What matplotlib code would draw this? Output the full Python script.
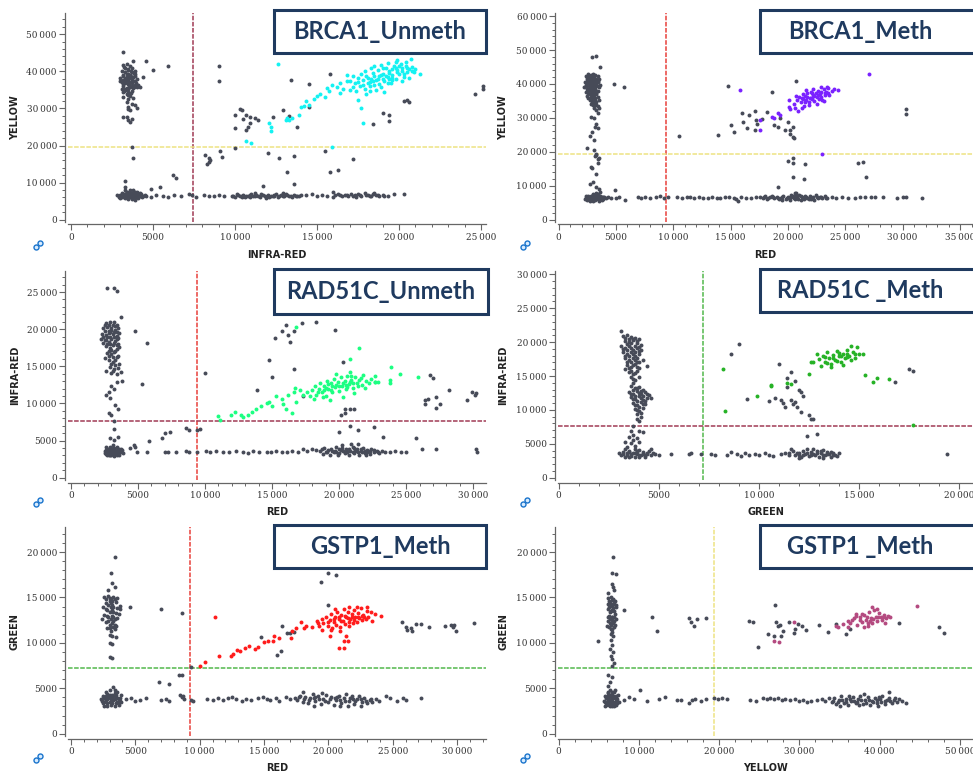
import numpy as np
import matplotlib.pyplot as plt
from matplotlib.ticker import MultipleLocator, AutoMinorLocator, FuncFormatter
from matplotlib.patches import Rectangle

# ---- data (fluorescence, in thousands) ----
# panel 1 : BRCA1_Unmeth  (INFRA-RED vs YELLOW)
p1_gray = [(3.2,41.6),(3.4,41.9),(3.6,41.4),(3.3,40.9),(3.5,40.6),(3.7,40.9),(3.9,40.2),(3.1,40.2),(3.3,39.8),(3.5,39.4),
           (3.7,39.9),(3.9,39.2),(3.2,39.0),(3.4,38.6),(3.6,38.9),(3.8,38.4),(4.0,38.0),(3.0,38.2),(3.3,37.9),(3.5,37.6),
           (3.7,37.8),(3.9,37.3),(3.1,37.1),(3.3,36.8),(3.5,36.5),(3.7,36.9),(3.9,36.4),(4.1,36.2),(4.2,35.9),(3.2,36.0),
           (3.4,35.6),(3.6,35.8),(3.8,35.4),(4.0,35.7),(3.3,34.9),(3.5,34.5),(3.7,34.8),(3.4,33.8),(3.6,33.4),(3.2,33.1),
           (3.5,32.6),(3.8,32.9),(3.4,31.6),(3.7,31.2),(3.5,30.3),(3.0,37.5),(3.1,35.2),(3.2,34.3),(3.9,31.0),(4.0,30.2),
           (3.6,29.6),(3.5,29.9),(3.2,45.1),(3.8,42.9),(4.6,42.9),(5.0,40.3),(5.9,41.3),(4.4,38.6),(3.2,27.6),(3.4,27.8),
           (3.5,26.8),(3.6,26.4),(3.7,27.2),
           (2.9,6.2),(3.0,6.7),(3.1,6.0),(3.2,6.5),(3.3,7.0),(3.3,5.8),(3.4,6.3),(3.5,6.8),(3.5,5.6),(3.6,6.1),(3.6,7.3),
           (3.7,6.6),(3.7,5.7),(3.8,7.0),(3.8,6.0),(3.9,6.5),(3.9,7.6),(4.0,6.2),(4.0,6.9),(4.1,5.8),(4.1,6.6),(4.2,7.1),
           (4.2,6.3),(4.3,6.8),(4.4,6.4),(4.5,6.7),(3.4,7.5),(3.6,7.9),(3.8,8.1),(3.3,8.0),(3.1,7.2),(3.0,5.8),(2.8,6.6),
           (3.9,5.4),(3.5,7.2),(4.0,7.6),(3.2,6.9),(3.7,6.3),(3.3,10.3),(3.3,8.9),(3.7,19.7),(3.8,16.6),(4.9,8.3),(5.4,8.8),
           (6.2,12.1),(6.4,11.2),
           (4.6,6.4),(4.9,6.2),(5.2,6.6),(5.6,6.5),(5.9,6.2),(6.3,6.6),(6.7,6.4),(7.2,6.8),(7.4,6.6),(7.6,6.2),(8.1,6.7),
           (8.4,6.5),(8.7,6.3),(9.0,6.6),(9.3,6.4),(9.8,6.5),(10.0,6.2),(10.1,6.8),(10.3,6.4),(10.5,6.7),(10.6,6.1),(10.8,6.5),
           (11.0,6.9),(11.1,6.3),(11.3,6.6),(11.5,6.1),(11.6,6.8),(11.8,6.4),(12.0,6.7),(12.1,6.1),(12.3,6.5),(12.5,6.9),
           (12.6,6.2),(12.8,6.6),(13.0,6.3),(13.1,6.8),(13.3,6.5),(13.5,6.2),(13.6,6.7),(13.8,6.4),(14.0,6.6),(10.4,6.0),
           (11.9,5.9),(12.9,7.1),(11.2,7.1),(12.4,6.3),(10.9,6.0),(14.3,6.6),(14.7,6.8),(15.0,6.5),(15.3,6.7),(15.6,6.5),
           (16.0,7.4),(16.1,6.6),(16.3,6.9),(16.5,6.5),(16.7,6.7),(16.9,6.4),(17.1,6.8),(17.3,6.6),(17.5,6.9),(17.7,6.5),
           (17.9,7.1),(18.0,6.7),(18.2,6.4),(18.4,6.8),(18.6,6.6),(18.8,6.3),(19.0,6.7),(19.3,6.5),(19.7,6.8),(20.3,6.8),
           (16.0,6.2),(17.4,6.2),(18.5,7.2),
           (9.0,41.4),(9.0,37.3),(8.2,17.5),(8.4,16.6),(8.5,16.1),(8.3,15.0),(8.4,15.6),(9.1,18.6),(9.2,17.0),(10.0,28.3),
           (10.0,24.7),(10.0,19.3),(10.3,29.9),(10.4,29.6),(10.5,27.1),(10.7,28.3),(10.9,27.7),(10.9,26.0),(10.8,25.1),
           (10.7,24.2),(11.2,27.3),(11.4,26.8),(11.7,9.1),(12.0,17.9),(12.3,27.8),(12.7,16.6),(12.9,29.6),(13.2,12.8),
           (13.3,28.0),(13.4,37.7),(13.6,17.3),(13.6,9.6),(13.8,24.9),(14.5,36.7),(14.5,30.5),(15.8,39.4),(15.5,18.6),
           (15.8,12.8),(16.3,13.5),(17.2,16.4),(18.4,25.9),(19.0,28.7),(19.4,28.3),(19.4,26.5),(20.3,32.1),(20.5,32.2),
           (20.6,31.6),(24.6,34.0),(25.1,36.1),(25.1,35.2),
           (3.25,41.2),(3.45,40.3),(3.65,40.0),(3.85,39.6),(3.15,38.7),(3.35,38.3),(3.55,38.1),(3.75,37.4),(3.95,36.8),
           (3.15,36.5),(3.35,37.3),(3.55,36.2),(3.75,36.1),(3.45,35.1),(3.65,34.2),(3.25,34.6),(3.85,35.9),(3.55,37.0),
           (3.4,39.3),(3.6,39.1),(3.3,35.3),(3.5,33.7),(3.7,38.6),(3.2,37.7),(3.9,38.7),
           (2.95,6.5),(3.05,6.3),(3.15,6.6),(3.25,6.1),(3.35,6.5),(3.45,6.9),(3.45,6.0),(3.55,6.4),(3.65,6.8),(3.75,6.1),
           (3.85,6.5),(3.95,6.8),(4.05,6.4),(4.15,6.9),(4.25,6.5),(4.35,6.2),(3.3,6.9),(3.6,6.6),(3.9,6.2),(3.2,6.3),
           (3.5,6.2),(3.8,6.7),(4.0,6.5),(3.4,7.1),(3.7,7.1),
           (9.9,6.4),(10.2,6.6),(10.4,6.4),(10.7,6.5),(10.9,6.6),(11.2,6.5),(11.4,6.4),(11.7,6.6),(12.0,6.5),(12.2,6.4),
           (12.4,6.6),(12.7,6.4),(12.9,6.5),(13.2,6.6),(13.4,6.4),(13.7,6.5),(13.9,6.3),(16.4,6.7),(16.8,6.6),(17.2,6.5),
           (17.6,6.7),(18.1,6.6),(18.3,6.5),(18.7,6.7),(19.1,6.5)]
p1_pos = [(10.7,21.1),(11.0,20.6),(12.1,26.0),(12.2,23.8),(12.2,25.0),(12.6,42.1),(13.1,26.9),(13.2,27.5),(13.3,26.8),
          (13.5,27.4),(13.9,28.3),(14.0,30.4),(14.2,30.7),(14.3,31.9),(14.5,31.0),(14.8,32.5),(15.0,33.4),(15.2,34.0),
          (15.5,33.0),(15.6,35.5),(15.7,34.8),(15.9,19.7),(16.2,35.9),(16.4,36.8),(16.4,34.1),(16.8,37.3),(17.0,35.0),
          (17.2,35.8),(17.5,32.3),(17.7,30.1),(17.8,26.0),(16.6,35.2),(15.9,36.2),
          (17.0,37.5),(17.3,36.8),(17.5,38.2),(17.6,36.0),(17.8,37.6),(17.9,35.2),(18.0,38.8),(18.1,36.9),(18.2,34.6),
          (18.3,38.0),(18.4,39.5),(18.5,36.4),(18.6,37.6),(18.7,40.3),(18.8,38.7),(18.9,35.8),(19.0,39.4),(19.1,37.3),
          (19.2,41.0),(19.3,38.4),(19.4,40.2),(19.5,36.8),(19.6,39.0),(19.7,41.5),(19.8,38.0),(19.9,40.4),(20.0,39.3),
          (20.1,42.0),(20.2,40.8),(20.3,38.6),(20.4,41.3),(20.5,39.8),(20.6,40.6),(20.8,41.2),(20.9,39.7),(17.2,38.8),
          (17.4,34.8),(17.7,39.3),(18.0,33.8),(18.3,40.9),(18.6,34.9),(18.9,41.6),(19.1,34.5),(19.3,42.3),(19.6,37.6),
          (19.9,43.0),(20.2,37.5),(20.7,43.3),(21.0,40.5),(21.3,39.4),(16.8,39.0),(18.2,37.2),(18.8,36.7),(19.4,37.9),
          (19.0,40.8),(19.8,42.4),(20.0,41.4),(18.5,41.5),(17.9,40.1),(20.4,42.6),(20.6,38.2),
          (17.5,37.0),(17.8,36.4),(18.1,38.2),(18.4,37.3),(18.7,38.0),(18.9,39.0),(19.2,38.7),(19.4,39.6),(19.6,40.5),
          (19.9,39.8),(20.2,40.1),(20.5,41.0),(18.5,38.8),(19.0,37.9),(19.8,41.0),(20.3,39.3),(19.3,36.9),(18.2,36.0),
          (20.8,40.0),(19.6,38.3)]

# panel 2 : BRCA1_Meth  (RED vs YELLOW)
p2_gray = [(2.4,42.3),(2.6,42.8),(2.8,42.5),(3.0,43.0),(3.2,42.6),(3.4,42.2),(2.5,41.5),(2.7,41.9),(2.9,41.3),(3.1,41.7),
           (3.3,41.1),(3.5,41.5),(2.3,40.6),(2.6,40.8),(2.8,40.2),(3.0,40.7),(3.2,40.1),(3.4,40.5),(2.4,39.7),(2.7,39.5),
           (2.9,39.9),(3.1,39.2),(3.3,39.6),(3.5,39.0),(2.2,39.1),(2.5,38.6),(2.8,38.8),(3.0,38.2),(3.2,38.6),(3.4,38.0),
           (2.4,37.7),(2.6,37.3),(2.9,37.6),(3.1,37.1),(3.3,37.4),(2.5,36.5),(2.8,36.2),(3.0,36.6),(3.2,35.9),(3.4,36.3),
           (2.7,35.4),(2.9,35.0),(3.1,35.3),(3.3,34.7),(3.5,35.2),(2.8,34.2),(3.0,33.8),(3.2,34.0),(3.4,33.4),(3.1,32.8),
           (3.3,32.2),(3.5,33.0),(3.6,39.8),(2.6,38.1),
           (2.9,48.0),(3.3,48.3),(3.6,45.0),(4.8,40.0),(5.7,39.2),(2.8,30.3),(3.1,30.0),(3.4,31.3),(3.2,27.4),(3.4,26.9),
           (3.3,28.3),(2.9,25.9),(2.7,24.6),(3.1,23.5),(2.5,21.0),(3.1,20.5),(3.3,19.5),(3.2,18.7),(3.4,17.8),(3.4,16.8),
           (2.8,15.6),(2.9,15.1),(3.3,13.6),(2.7,10.5),(3.0,11.1),(4.9,8.7),(3.3,9.7),(3.3,19.0),(3.5,18.3),
           (2.3,6.2),(2.5,5.8),(2.5,6.7),(2.7,6.3),(2.7,5.5),(2.9,6.0),(2.9,6.9),(3.0,5.6),(3.1,6.4),(3.2,7.2),(3.2,5.8),
           (3.3,6.7),(3.4,6.1),(3.4,7.7),(3.5,6.5),(3.5,5.6),(3.6,7.0),(3.6,8.3),(3.7,6.2),(3.8,6.8),(3.9,6.0),(4.0,6.6),
           (4.1,6.3),(2.6,7.1),(3.0,7.6),(3.3,8.0),(3.5,9.0),(2.4,6.9),(3.8,5.8),(3.1,6.0),
           (4.3,6.6),(4.6,6.4),(5.0,6.3),(5.3,6.6),(5.8,5.9),(6.9,6.7),(7.2,6.5),(7.5,6.8),(8.0,6.4),(8.5,6.6),(8.8,6.9),
           (9.2,6.5),(9.5,6.6),(10.3,6.7),(10.8,6.4),(11.2,6.6),(11.5,6.7),(11.8,6.3),(12.2,6.6),(12.6,6.5),(13.0,6.3),
           (13.4,6.6),(13.8,6.5),(14.1,6.4),(14.5,6.7),(14.9,6.6),(15.3,6.3),(15.6,5.4),(15.5,6.0),(15.9,6.7),(16.3,6.5),
           (16.8,6.4),(17.2,6.6),(17.6,6.8),
           (17.8,6.4),(18.0,6.9),(18.2,6.1),(18.4,6.6),(18.6,7.1),(18.8,6.3),(19.0,6.7),(19.2,6.0),(19.4,6.5),(19.6,7.0),
           (19.8,6.2),(20.0,6.8),(20.2,5.9),(20.3,7.3),(20.5,6.4),(20.7,6.9),(20.9,6.1),(21.0,7.4),(21.2,6.6),(21.4,6.2),
           (21.5,7.1),(21.7,6.5),(21.9,6.9),(22.0,6.0),(22.2,6.7),(22.4,7.2),(22.6,6.3),(22.8,6.8),(23.0,6.4),(23.2,7.0),
           (23.4,6.5),(20.6,7.8),(21.1,5.8),(19.5,5.8),(22.3,5.9),(20.1,6.3),(21.8,6.2),
           (23.8,6.6),(24.2,6.4),(24.7,6.6),(25.2,6.5),(25.8,6.3),(26.3,6.6),(26.7,6.8),(27.2,6.7),(27.6,6.6),(28.3,6.7),
           (29.5,6.4),(30.0,6.6),(30.3,6.7),(31.7,6.4),
           (14.8,39.4),(13.9,25.0),(10.5,24.8),(15.0,27.8),(15.3,25.9),(16.0,31.5),(16.1,28.7),(16.6,30.8),(16.4,27.1),
           (17.1,32.1),(17.2,29.5),(17.3,28.1),(17.1,26.4),(17.7,29.6),(18.2,31.6),(18.6,37.5),(18.8,27.9),(19.1,27.4),
           (19.3,30.1),(19.7,26.4),(20.0,28.8),(20.2,26.4),(20.4,27.4),(20.2,25.2),(20.4,24.4),(20.5,24.1),(20.7,40.8),
           (20.0,17.4),(20.4,18.3),(20.4,16.8),(21.5,16.3),(20.4,12.7),(21.4,12.1),(19.1,9.7),(20.7,7.9),(26.1,16.6),
           (26.5,17.1),(26.8,12.7),(30.3,32.5),(30.3,31.1),
           (2.5,42.0),(2.7,42.4),(2.9,42.0),(3.1,42.3),(3.3,41.6),(2.6,41.2),(2.8,41.0),(3.0,41.2),(3.2,40.7),(3.4,41.0),
           (2.5,40.3),(2.7,40.0),(2.9,40.5),(3.1,40.0),(3.3,40.3),(2.5,39.3),(2.7,38.9),(2.9,39.3),(3.2,39.0),(3.4,39.3),
           (2.6,38.3),(2.8,37.9),(3.0,37.8),(3.2,38.2),(2.7,36.9),(2.9,36.8),(3.1,36.3),(3.3,36.9),(2.6,35.9),(3.0,35.6),
           (3.2,35.2),(2.9,34.5),(3.1,34.4),(3.3,33.8),
           (2.4,6.4),(2.6,6.1),(2.6,6.5),(2.8,6.6),(2.8,6.0),(3.0,6.3),(3.0,6.8),(3.2,6.2),(3.2,6.6),(3.4,6.4),(3.4,6.8),
           (3.6,6.4),(3.6,6.1),(3.8,6.4),(3.9,6.6),(2.8,7.0),(3.3,7.3),(3.7,6.7),
           (17.9,6.6),(18.3,6.4),(18.7,6.6),(19.1,6.4),(19.5,6.6),(19.9,6.5),(20.3,6.6),(20.6,6.2),(20.8,6.6),(21.1,6.9),
           (21.3,6.4),(21.6,6.8),(22.1,6.4),(22.5,6.6),(22.9,6.6),(23.3,6.3),(20.4,6.9),(21.9,6.5)]
p2_pos = [(20.8,35.3),(21.0,36.2),(21.1,34.6),(21.2,35.8),(21.3,37.0),(21.4,33.5),(21.5,36.4),(21.6,35.2),(21.7,37.3),
          (21.8,34.8),(21.9,36.0),(22.0,37.7),(22.1,35.5),(22.2,36.8),(22.3,34.9),(22.4,37.2),(22.5,36.1),(22.6,38.0),
          (22.7,35.7),(22.8,36.9),(22.9,37.6),(23.0,35.2),(23.1,38.4),(23.2,36.6),(23.3,37.5),(23.5,38.8),(23.6,36.8),
          (23.8,37.9),(24.0,38.4),(24.4,38.3),(20.6,33.0),(20.9,32.0),(21.2,33.0),(20.5,34.2),(21.6,38.2),(22.2,38.5),
          (22.9,39.2),(23.4,39.0),(20.7,36.4),(21.8,33.8),(23.1,35.0),(22.5,34.2),
          (15.8,38.2),(17.6,29.5),(17.6,26.4),(18.6,30.3),(18.8,30.1),(19.1,31.3),(20.1,35.2),(20.1,33.1),(20.2,32.6),
          (27.1,42.9),(23.0,19.5),(19.3,31.0),
          (21.3,35.5),(21.7,36.1),(22.0,35.8),(22.3,36.4),(22.6,36.6),(22.9,36.3),(23.2,37.2),(23.5,37.4),(21.5,34.8),
          (22.1,37.2)]

# panel 3 : RAD51C_Unmeth  (RED vs INFRA-RED)
p3_gray = [(2.6,20.8),(2.9,21.0),(3.2,20.9),(3.4,20.6),(2.4,20.1),(2.7,20.3),(3.0,20.2),(3.3,19.9),(3.5,20.1),(2.3,19.4),
           (2.6,19.2),(2.9,19.6),(3.1,19.3),(3.4,19.1),(3.6,19.5),(2.5,18.6),(2.8,18.3),(3.0,18.7),(3.3,18.4),(3.5,18.0),
           (2.2,18.7),(2.6,17.7),(2.9,17.5),(3.1,17.9),(3.4,17.3),(3.6,17.6),(2.7,16.8),(3.0,16.6),(3.2,16.9),(3.5,16.4),
           (2.8,15.9),(3.1,15.6),(3.3,15.9),(3.6,15.3),(2.9,14.9),(3.2,14.6),(3.5,14.8),(3.0,14.1),(3.4,13.9),(2.6,14.3),
           (3.7,14.2),(3.8,13.0),(2.5,16.1),(3.3,20.4),(2.8,19.8),
           (2.7,25.6),(3.2,25.6),(3.4,25.1),(3.7,21.6),(4.8,19.8),(5.7,18.2),(5.3,12.6),(3.4,12.9),(3.0,12.3),(3.2,12.0),
           (2.6,11.1),(2.8,11.5),(2.9,10.7),(3.3,9.8),(3.5,9.3),(2.8,8.7),(3.0,8.5),(3.2,7.7),(3.2,6.5),(2.9,5.3),(3.2,5.1),
           (3.5,5.5),(4.7,4.4),(4.8,4.1),(4.4,4.0),(5.8,5.0),
           (2.5,3.6),(2.6,3.2),(2.7,3.9),(2.8,3.4),(2.9,4.1),(2.9,3.0),(3.0,3.7),(3.1,3.3),(3.2,4.0),(3.2,2.9),(3.3,3.6),
           (3.4,3.1),(3.4,4.2),(3.5,3.5),(3.6,3.9),(3.6,3.0),(3.7,3.4),(3.8,3.7),(3.9,3.3),(2.6,4.1),(3.1,4.4),(3.0,3.1),
           (2.7,3.0),
           (4.9,3.4),(5.7,3.5),(7.0,3.4),(7.2,3.5),(7.8,3.5),(8.6,3.6),(8.8,3.5),(9.4,3.4),(10.1,3.6),(10.4,3.5),(10.8,3.6),
           (11.3,3.4),(11.8,3.5),(12.3,3.6),(12.8,3.4),(13.2,3.3),(13.6,3.6),(14.0,3.5),(14.6,3.4),(14.9,3.5),(15.3,3.6),
           (15.7,3.5),(16.1,3.4),(16.5,3.6),(16.9,3.5),(17.3,3.8),(17.6,3.6),(18.0,3.9),(18.3,3.7),
           (18.6,3.6),(18.8,3.2),(18.9,4.0),(19.1,3.5),(19.3,3.0),(19.4,3.9),(19.6,3.4),(19.8,4.2),(19.9,3.1),(20.1,3.7),
           (20.2,4.4),(20.4,3.3),(20.5,3.9),(20.7,3.0),(20.8,3.6),(21.0,4.2),(21.1,3.3),(21.3,3.8),(21.5,3.1),(21.6,3.6),
           (21.8,4.0),(21.9,3.3),(22.1,3.7),(22.3,3.2),(22.4,3.8),(22.6,3.4),(22.8,3.6),(23.0,3.3),(23.2,3.6),(23.4,3.4),
           (20.0,3.3),(20.9,4.6),(21.4,4.5),(19.7,3.6),(22.0,3.0),(20.6,3.5),(21.7,3.5),
           (23.8,3.5),(24.2,3.6),(24.6,3.4),(25.0,3.5),(26.2,3.9),(27.2,3.9),(30.2,3.9),(30.3,3.5),
           (6.8,5.4),(7.0,6.0),(7.4,6.1),(8.6,6.7),(8.8,6.4),(9.4,6.4),(9.6,6.6),(10.0,14.1),(13.9,11.8),(14.8,15.9),
           (15.0,13.5),(15.2,18.8),(15.7,19.8),(16.0,20.5),(16.2,19.2),(16.3,18.3),(16.6,19.8),(16.6,14.7),(17.2,20.8),
           (18.3,20.9),(19.7,19.9),(20.3,15.6),(17.3,11.0),(20.1,8.4),(20.4,8.7),(20.4,9.3),(20.8,9.3),(21.1,9.3),(20.0,6.2),
           (20.8,6.9),(21.4,6.4),(22.6,6.8),(23.3,5.5),(25.7,5.3),(26.4,10.4),(26.6,10.6),(26.4,9.9),(26.8,13.8),
           (27.0,13.4),(27.2,10.8),(27.2,9.4),(27.5,9.9),(28.2,11.8),(29.5,10.5),(29.9,11.6),(30.1,11.1),(30.2,11.4),
           (2.5,20.5),(2.8,20.6),(3.1,20.5),(2.5,19.7),(2.8,19.5),(3.0,19.9),(3.2,19.6),(3.4,19.6),(2.4,18.9),(2.7,18.9),
           (2.9,19.0),(3.2,18.9),(3.4,18.7),(2.4,18.2),(2.7,18.0),(2.9,18.0),(3.2,18.2),(3.4,17.8),(2.8,17.1),(3.0,17.2),
           (3.3,17.0),(2.8,16.4),(3.1,16.2),(3.4,16.2),(3.0,15.3),(3.3,15.2),(3.1,14.4),(2.6,18.5),(3.5,18.8),
           (2.5,3.3),(2.6,3.7),(2.7,3.5),(2.8,3.8),(2.9,3.6),(3.0,3.4),(3.1,3.7),(3.2,3.5),(3.3,3.3),(3.4,3.7),(3.5,3.3),
           (3.6,3.6),(3.7,3.8),(2.8,3.1),(3.2,3.2),(3.0,4.0),
           (18.7,3.8),(19.0,3.5),(19.2,3.7),(19.5,3.6),(19.8,3.5),(20.0,3.8),(20.3,3.6),(20.5,3.4),(20.7,3.8),(21.0,3.5),
           (21.2,3.6),(21.4,3.4),(21.6,3.9),(21.9,3.6),(22.1,3.4),(22.3,3.6),(22.6,3.7),(22.9,3.5),(20.2,4.0),(21.1,4.0)]
p3_pos = [(17.6,11.5),(17.8,11.0),(18.0,11.8),(18.2,12.3),(18.3,11.2),(18.5,12.0),(18.6,12.8),(18.7,11.5),(18.9,12.4),
          (19.0,11.0),(19.1,13.0),(19.2,12.0),(19.4,12.7),(19.5,11.5),(19.6,13.3),(19.7,12.2),(19.9,12.9),(20.0,11.7),
          (20.1,13.5),(20.2,12.4),(20.4,13.0),(20.5,11.9),(20.6,13.7),(20.7,12.6),(20.9,13.2),(21.0,12.1),(21.2,13.6),
          (21.3,12.8),(21.5,13.1),(21.7,12.5),(21.8,13.8),(22.0,13.0),(22.2,12.7),(22.4,13.3),(22.7,12.9),(18.1,10.6),
          (18.8,10.8),(19.3,10.5),(20.3,10.8),(19.8,14.0),(20.8,14.2),(17.3,11.2),(17.1,11.8),(19.4,11.8),(20.6,12.2),
          (21.1,11.4),(21.9,12.1),
          (11.0,8.3),(11.1,7.8),(11.9,8.4),(12.2,8.8),(12.7,8.5),(12.8,8.2),(13.2,8.4),(13.5,8.8),(13.8,9.3),(14.2,9.6),
          (14.6,10.0),(14.8,10.2),(15.0,9.6),(15.3,11.0),(15.7,10.6),(15.8,9.9),(16.0,9.3),(16.2,11.1),(16.5,8.7),
          (16.6,11.6),(16.7,12.1),(16.8,10.2),(16.8,20.3),(21.5,17.4),(20.8,16.0),(23.9,14.9),(24.5,14.0),(25.9,13.6),
          (23.8,13.1),(23.8,12.7),(22.7,13.7),(22.7,12.9),(22.9,12.9),
          (18.4,11.6),(18.9,11.8),(19.2,12.6),(19.5,12.3),(19.8,12.5),(20.0,12.3),(20.3,12.7),(20.5,12.5),(20.8,12.9),
          (21.0,12.7),(21.4,12.4),(21.6,13.4),(19.0,12.1),(20.9,13.7)]

# panel 4 : RAD51C _Meth  (GREEN vs INFRA-RED)
p4_gray = [(3.2,20.9),(3.4,21.0),(3.6,20.8),(3.8,20.6),(4.0,20.4),(3.3,20.2),(3.5,20.0),(3.7,20.3),(3.9,19.8),(4.1,19.6),
           (3.1,19.5),(3.3,19.2),(3.5,19.4),(3.7,18.9),(3.9,19.2),(4.1,18.8),(3.2,18.5),(3.4,18.2),(3.6,18.6),(3.8,18.0),
           (4.0,18.3),(3.3,17.6),(3.5,17.3),(3.7,17.7),(3.9,17.1),(4.2,17.4),(3.4,16.6),(3.6,16.3),(3.8,16.8),(4.0,16.2),
           (3.5,15.6),(3.7,15.3),(3.9,15.7),(3.6,14.8),(3.8,14.4),(4.0,14.9),(3.7,14.0),(3.1,21.6),(4.4,16.5),(3.3,16.0),
           (3.6,13.5),(3.8,13.2),(4.0,13.4),(4.2,13.0),(3.5,12.7),(3.7,12.4),(3.9,12.8),(4.1,12.3),(4.3,12.6),(4.5,12.2),
           (3.6,11.9),(3.8,11.6),(4.0,12.0),(4.2,11.5),(4.4,11.8),(3.7,11.0),(3.9,10.7),(4.1,11.1),(4.3,10.8),(3.8,10.2),
           (4.0,9.9),(4.2,10.3),(3.9,9.4),(4.1,9.0),(3.9,8.6),(4.0,8.3),(4.6,11.7),(3.7,7.6),
           (3.6,6.9),(3.7,6.3),(4.0,6.9),(4.2,6.7),(3.4,4.6),(3.7,5.6),(3.6,5.1),(3.9,5.9),(3.5,6.0),(4.0,5.3),(3.8,4.7),
           (3.3,5.3),
           (3.1,3.3),(3.2,3.8),(3.3,3.1),(3.4,3.6),(3.5,4.0),(3.6,3.2),(3.7,3.7),(3.8,3.0),(3.9,3.5),(4.0,4.1),(4.1,3.3),
           (4.2,3.8),(4.3,3.1),(4.4,3.5),(4.5,3.9),(4.6,3.4),(4.7,3.6),(3.0,3.6),(3.5,3.0),(4.0,3.0),(4.6,4.3),(3.3,4.3),
           (3.8,4.2),
           (4.8,3.5),(5.0,3.4),(5.6,3.5),(6.5,3.5),(6.6,3.6),(7.1,3.5),(7.6,3.5),(7.8,3.4),(8.4,3.4),(8.6,3.8),(8.9,3.5),
           (9.1,3.2),(9.3,3.7),(9.5,3.4),(9.8,3.5),(10.0,3.3),(10.3,3.6),(10.5,3.4),(10.7,3.2),(11.1,3.5),(11.3,3.7),
           (11.5,3.3),
           (11.5,3.6),(11.7,3.9),(11.8,3.3),(12.0,3.7),(12.1,3.1),(12.2,4.0),(12.3,3.5),(12.5,3.2),(12.6,3.8),(12.7,4.2),
           (12.8,3.4),(12.9,3.9),(13.0,3.1),(13.1,3.6),(13.2,4.1),(13.3,3.3),(13.4,3.8),(13.5,3.5),(13.6,3.1),(13.7,3.7),
           (13.8,3.4),(14.0,3.6),(12.4,4.3),(11.6,4.3),(12.0,2.9),(13.9,3.2),(13.2,2.9),(19.4,3.5),
           (8.6,18.3),(9.0,19.7),(9.4,11.6),(10.5,11.3),(11.0,16.8),(10.8,11.7),(11.1,11.4),(11.2,11.0),(11.3,10.5),
           (11.4,13.4),(11.4,14.7),(11.6,15.6),(11.6,11.5),(11.7,10.8),(11.8,14.2),(11.8,11.2),(11.9,10.5),(12.0,12.9),
           (12.1,12.6),(12.1,9.7),(12.2,12.1),(12.5,9.3),(12.6,8.7),(12.7,8.6),(12.4,6.1),(12.9,6.4),(17.5,16.0),
           (17.7,15.7),(16.8,14.1),
           (3.3,20.6),(3.5,20.5),(3.7,20.5),(3.9,20.1),(3.4,19.7),(3.6,19.9),(3.8,19.5),(4.0,19.3),(3.2,19.0),(3.4,18.8),
           (3.6,19.1),(3.8,18.6),(4.0,18.7),(3.3,18.0),(3.5,17.9),(3.7,18.2),(3.9,17.7),(3.4,17.1),(3.6,17.0),(3.8,17.3),
           (4.0,17.0),(3.5,16.2),(3.7,16.6),(3.9,16.4),(3.6,15.8),(3.8,15.5),(3.7,14.6),
           (3.7,13.0),(3.9,13.2),(4.1,12.8),(3.6,12.4),(3.8,12.1),(4.0,12.5),(4.2,12.1),(4.4,12.3),(3.7,11.6),(3.9,11.3),
           (4.1,11.7),(4.3,11.3),(3.8,10.7),(4.0,10.5),(4.2,10.8),(3.9,10.0),(4.1,9.6),
           (3.2,3.5),(3.4,3.3),(3.6,3.5),(3.8,3.6),(4.0,3.4),(4.2,3.5),(4.4,3.7),(3.5,3.8),(3.9,3.9),(4.3,3.4),
           (11.9,3.6),(12.2,3.4),(12.4,3.7),(12.7,3.5),(12.9,3.6),(13.2,3.4),(13.4,3.5),(13.7,3.4),(12.0,3.4),(12.6,3.3),
           (13.1,3.9),(13.6,3.8)]
p4_pos = [(12.9,18.2),(13.0,17.5),(13.2,18.0),(13.3,17.1),(13.4,18.5),(13.5,17.7),(13.6,16.7),(13.7,18.1),(13.8,17.4),
          (13.9,18.7),(14.0,17.9),(14.1,17.1),(14.2,18.3),(14.3,17.6),(14.4,18.9),(14.5,18.0),(14.6,17.3),(14.7,18.6),
          (14.8,17.7),(14.9,19.3),(13.1,16.5),(13.6,16.3),(14.2,16.6),(14.6,19.4),(15.0,18.2),(12.7,17.0),(13.4,16.9),
          (14.0,18.4),(14.4,17.8),
          (8.2,16.1),(8.3,9.8),(9.9,12.1),(10.6,13.5),(10.6,13.6),(11.4,14.0),(11.6,13.8),(12.5,15.3),(12.6,17.0),
          (15.3,15.1),(15.7,14.1),(15.9,14.7),(16.5,14.6),(17.7,7.7),(15.2,18.3),
          (13.3,17.8),(13.7,17.6),(14.1,18.0),(14.4,18.3),(14.8,18.2),(13.9,17.2)]

# panel 5 : GSTP1_Meth  (RED vs GREEN)
p5_gray = [(2.6,15.0),(2.9,15.2),(3.1,14.8),(3.3,15.1),(3.6,14.9),(2.7,14.4),(3.0,14.6),(3.2,14.2),(3.5,14.5),(3.8,14.1),
           (2.5,13.9),(2.8,13.6),(3.1,13.9),(3.3,13.4),(3.6,13.8),(2.6,13.1),(2.9,12.9),(3.2,13.0),(3.4,12.6),(3.7,13.2),
           (2.7,12.3),(3.0,12.0),(3.3,12.4),(3.5,11.9),(2.8,11.6),(3.1,11.3),(3.4,11.5),(3.2,10.8),(3.5,10.6),(3.0,10.9),
           (3.8,13.7),(2.4,12.6),
           (3.4,19.4),(3.1,17.7),(3.2,16.6),(3.4,16.1),(2.9,15.8),(4.6,13.9),(7.0,13.7),(8.6,13.3),(3.0,10.0),(3.2,9.9),
           (3.0,8.4),(3.2,8.3),
           (2.3,3.8),(2.5,3.4),(2.5,4.2),(2.7,3.7),(2.7,4.6),(2.8,3.1),(2.9,4.0),(3.0,3.5),(3.0,4.8),(3.1,3.2),(3.2,4.3),
           (3.3,3.7),(3.3,5.1),(3.4,3.1),(3.5,4.0),(3.6,3.5),(3.6,4.6),(3.7,3.2),(3.8,3.9),(3.9,3.5),(3.9,4.3),(2.6,3.1),
           (3.1,4.0),(3.4,4.5),(2.8,4.4),(3.7,3.8),
           (4.3,3.8),(4.7,3.9),(5.0,3.6),(5.4,3.7),(5.8,3.9),(7.0,3.7),(7.4,3.8),(7.6,3.6),(8.6,4.0),(8.8,3.8),(9.3,3.7),
           (9.5,3.6),(10.6,3.8),(11.0,3.7),(11.4,3.9),(11.8,3.7),(12.2,3.9),(12.5,4.0),(12.8,3.8),(13.3,3.6),(13.6,3.8),
           (14.0,3.7),(14.5,3.9),(14.9,4.0),(15.2,3.8),(15.5,3.7),(15.9,3.9),(16.2,3.6),(16.7,4.0),(17.0,3.8),(17.4,3.9),
           (17.6,3.7),(17.8,4.2),(18.0,3.5),(18.2,4.0),(18.4,3.4),(18.6,3.9),(18.8,4.4),(19.0,3.6),(19.2,4.1),(19.4,3.3),
           (19.6,3.8),(19.8,4.3),(20.0,3.5),(20.2,4.0),(20.4,3.2),(20.6,3.7),(20.8,4.2),(21.0,3.4),(21.2,3.9),(21.4,4.4),
           (21.6,3.6),(21.8,4.1),(22.0,3.3),(22.2,3.8),(22.4,4.2),(22.6,3.5),(22.8,3.9),(23.0,3.4),(23.2,3.7),(23.4,3.5),
           (23.7,3.8),(23.9,3.6),(18.0,4.6),(19.5,4.5),(21.5,3.0),(20.9,3.0),(22.5,3.1),(18.9,3.1),
           (24.5,4.2),(24.8,3.9),(25.8,3.9),(26.0,3.7),(27.2,3.9),(25.3,3.6),
           (6.8,5.7),(7.6,5.5),(8.4,6.5),(8.6,6.5),(9.3,7.3),(8.5,4.3),(8.7,4.1),(14.8,10.6),(16.0,8.7),(16.3,9.1),
           (16.4,11.9),(16.8,11.1),(17.0,11.1),(17.3,11.2),(19.4,16.7),(20.0,17.7),(20.6,17.5),(20.0,14.2),(25.7,12.3),
           (26.0,11.8),(26.1,11.4),(26.5,11.3),(26.8,12.1),(27.2,12.1),(26.4,11.6),(27.8,11.7),(29.1,11.9),(29.5,12.0),
           (29.7,11.7),(29.9,11.3),(29.8,12.0),(31.3,12.2),
           (2.7,14.8),(3.0,14.9),(3.2,14.6),(3.4,14.8),(2.9,14.2),(3.1,14.4),(3.3,14.0),(2.7,13.7),(3.0,13.4),(3.2,13.6),
           (3.5,13.3),(2.8,13.0),(3.1,12.6),(3.3,12.9),(3.6,12.7),(2.9,12.4),(3.2,12.2),(3.4,12.0),(3.0,11.6),(3.3,11.8),
           (2.4,3.6),(2.6,3.9),(2.6,3.5),(2.8,3.8),(2.8,3.4),(2.9,4.3),(3.0,3.9),(3.1,3.6),(3.2,3.9),(3.2,3.4),(3.3,4.2),
           (3.4,3.8),(3.5,3.4),(3.5,4.3),(3.6,3.9),(3.7,3.5),(3.8,3.6),(3.0,4.3),(2.7,4.1),(3.4,4.8),
           (17.7,4.0),(18.1,3.8),(18.5,3.7),(18.9,3.9),(19.3,3.8),(19.7,3.6),(20.1,3.8),(20.5,3.9),(20.9,3.7),(21.3,3.6),
           (21.7,3.9),(22.1,3.6),(22.5,3.8),(22.9,3.6),(23.3,3.8),(19.0,4.0),(20.7,4.0),(21.9,3.8)]
p5_pos = [(19.6,12.2),(19.8,12.8),(20.0,11.9),(20.1,12.5),(20.2,13.2),(20.3,11.6),(20.4,12.3),(20.5,12.9),(20.6,12.0),
          (20.7,13.4),(20.8,12.6),(20.9,11.8),(21.0,13.1),(21.1,12.4),(21.2,13.7),(21.3,12.1),(21.4,12.8),(21.5,13.4),
          (21.6,11.9),(21.7,12.6),(21.8,13.2),(21.9,12.2),(22.0,13.6),(22.1,12.8),(22.2,12.3),(22.3,13.3),(22.4,12.7),
          (22.5,13.8),(22.6,12.5),(22.7,13.1),(22.8,12.9),(23.0,13.5),(23.1,12.8),(23.3,13.4),(23.4,12.4),(20.2,11.4),
          (20.9,11.3),(19.3,11.9),(19.1,12.4),(21.6,14.0),(22.2,13.9),(20.5,13.7),
          (10.0,7.5),(10.4,7.9),(11.2,12.8),(11.5,8.5),(12.4,8.6),(12.6,8.8),(12.9,9.2),(13.1,9.1),(13.5,9.4),(13.8,9.7),
          (14.3,9.3),(14.5,9.6),(15.0,10.1),(15.3,10.2),(15.7,10.2),(15.8,10.8),(16.2,10.5),(17.1,10.5),(17.2,11.3),
          (17.5,11.6),(17.9,12.3),(18.1,11.6),(18.3,11.9),(18.7,11.7),(19.2,12.2),(19.5,12.6),(19.5,11.4),(20.1,10.8),
          (21.2,10.2),(21.4,10.8),(21.5,10.2),(21.2,9.4),(20.8,9.4),(22.9,12.6),(23.0,14.0),(23.6,13.2),(24.1,13.0),
          (20.4,12.6),(20.8,12.9),(21.0,12.4),(21.3,13.0),(21.5,12.7),(21.8,12.9),(22.0,12.5),(22.3,12.9),(21.6,12.3),
          (22.6,13.0),(20.0,12.3)]

# panel 6 : GSTP1 _Meth  (YELLOW vs GREEN)
p6_gray = [(6.2,14.9),(6.5,15.0),(6.8,14.8),(7.0,14.6),(6.1,14.3),(6.4,14.4),(6.7,14.1),(6.9,14.3),(7.1,13.9),(6.2,13.7),
           (6.5,13.5),(6.8,13.8),(7.0,13.2),(6.3,13.0),(6.6,12.8),(6.9,12.9),(7.2,12.6),(6.1,12.4),(6.4,12.2),(6.7,12.5),
           (7.0,12.0),(6.3,11.7),(6.6,11.5),(6.9,11.8),(6.5,11.0),(6.8,10.8),(6.2,12.9),(7.2,14.2),(6.0,11.9),
           (6.8,19.5),(6.6,17.7),(7.1,17.6),(6.6,16.5),(6.8,16.1),(6.9,15.8),(6.2,15.5),(4.9,10.2),(8.2,13.6),(6.5,10.3),
           (6.7,9.8),(6.4,9.3),(6.8,9.0),(6.5,8.5),(6.7,8.2),(6.9,7.8),(6.6,7.4),(6.2,6.5),(6.4,5.7),(6.1,5.2),(6.7,6.2),
           (5.7,3.6),(5.8,4.2),(5.9,3.2),(6.0,3.9),(6.1,4.5),(6.2,3.4),(6.3,4.0),(6.4,3.1),(6.5,3.7),(6.6,4.3),(6.7,3.3),
           (6.8,3.9),(6.9,4.6),(7.0,3.5),(7.1,4.1),(7.2,3.2),(7.3,3.8),(7.4,4.3),(7.5,3.5),(5.8,3.0),(6.4,4.8),(6.9,3.0),
           (6.2,4.6),(7.0,4.8),
           (8.2,3.7),(8.8,4.0),(9.4,3.8),(10.2,4.8),(11.0,3.6),(12.5,3.8),(13.3,4.0),(14.8,3.7),(15.2,3.7),(16.2,3.4),
           (16.6,3.7),(17.0,3.8),(17.8,3.6),(18.4,3.8),(19.3,3.9),(19.8,3.8),(20.4,3.9),(21.0,3.8),(23.8,3.7),(24.6,3.6),
           (25.4,3.9),(25.9,3.8),(26.3,3.9),(26.8,3.8),(27.3,3.9),(27.8,3.7),(28.2,3.8),(28.8,3.7),(29.4,3.8),(30.0,3.6),
           (30.5,3.7),(31.0,3.5),(31.5,3.6),(32.2,3.7),(32.8,3.8),(33.2,3.6),(33.7,3.9),
           (34.0,3.5),(34.3,3.9),(34.6,3.3),(34.9,3.7),(35.2,4.1),(35.5,3.4),(35.8,3.8),(36.1,3.2),(36.4,3.6),(36.7,4.0),
           (37.0,3.4),(37.3,3.8),(37.6,4.2),(37.9,3.3),(38.2,3.7),(38.5,4.0),(38.8,3.2),(39.1,3.6),(39.4,3.9),(39.7,3.4),
           (40.0,3.8),(40.3,4.1),(40.6,3.3),(40.9,3.7),(41.2,3.9),(41.5,3.4),(41.8,3.7),(42.1,3.5),(42.4,3.8),(42.8,3.6),
           (41.1,4.6),(43.3,3.4),(38.0,4.4),(36.2,4.2),(39.8,3.1),(35.0,3.1),
           (11.6,12.9),(12.3,11.3),(16.2,12.7),(16.5,12.3),(16.9,11.9),(17.3,12.6),(18.3,12.7),(23.7,12.4),(24.2,12.3),
           (24.9,9.5),(27.0,14.2),(26.1,11.0),(26.8,10.8),(27.1,12.3),(27.3,11.9),(27.6,12.0),(28.0,11.3),(27.7,10.8),
           (28.7,12.3),(29.3,11.1),(29.5,11.5),(29.8,12.1),(30.3,11.9),(30.8,11.4),(32.4,12.0),(33.6,11.2),(35.8,11.0),
           (36.3,11.5),(34.6,12.1),(42.4,12.2),(47.4,11.7),(48.0,11.1),
           (6.3,14.6),(6.6,14.7),(6.9,14.6),(6.3,14.0),(6.5,14.2),(6.8,14.3),(6.4,13.4),(6.7,13.6),(6.9,13.5),(6.4,12.6),
           (6.7,12.9),(6.9,12.4),(6.5,12.0),(6.8,12.2),(6.5,11.5),(6.7,11.2),
           (5.8,3.5),(5.9,3.9),(6.0,3.3),(6.1,3.7),(6.2,4.1),(6.3,3.6),(6.4,4.3),(6.5,3.4),(6.6,3.9),(6.7,3.6),(6.8,4.2),
           (6.9,3.4),(7.0,4.0),(7.1,3.6),(7.2,3.9),(7.3,3.4),(6.1,4.1),(6.6,4.6),(6.3,3.2),(6.7,3.0),
           (34.2,3.6),(34.8,3.5),(35.3,3.7),(35.8,3.5),(36.3,3.8),(36.8,3.6),(37.2,3.5),(37.7,3.7),(38.3,3.4),(38.7,3.7),
           (39.2,3.5),(39.6,3.7),(40.2,3.5),(40.7,3.6),(41.3,3.6),(41.9,3.9),(37.4,3.2),(39.9,4.0)]
p6_pos = [(36.3,12.2),(36.8,12.7),(37.2,12.0),(37.5,12.9),(37.8,12.3),(38.0,13.1),(38.3,12.5),(38.5,11.9),(38.7,13.4),
          (38.9,12.7),(39.1,12.2),(39.3,13.6),(39.5,12.9),(39.7,12.4),(39.9,13.3),(40.1,12.8),(40.3,12.5),(40.5,13.1),
          (40.8,12.7),(41.0,13.0),(41.3,12.9),(37.0,13.2),(38.1,11.8),(39.0,13.9),(39.6,13.7),(40.6,12.2),(36.0,11.8),
          (37.6,12.5),(38.6,12.2),
          (29.3,12.3),(26.8,10.2),(27.4,10.1),(34.5,11.9),(34.8,11.7),(35.4,12.1),(36.1,12.4),(36.5,12.5),(37.1,13.0),
          (37.8,13.2),(44.7,14.1),
          (38.4,12.9),(39.2,12.6),(39.8,12.9),(40.4,12.8),(38.8,12.4)]

titles = ['BRCA1_Unmeth', 'BRCA1_Meth', 'RAD51C_Unmeth', 'RAD51C _Meth', 'GSTP1_Meth', 'GSTP1 _Meth']
xlabels = ['INFRA-RED', 'RED', 'RED', 'GREEN', 'RED', 'YELLOW']
ylabels = ['YELLOW', 'YELLOW', 'INFRA-RED', 'INFRA-RED', 'GREEN', 'GREEN']
thresh_x = [7420, 9384, 9420, 7217, 9256, 19340]
thresh_y = [19525, 19440, 7670, 7625, 7265, 7265]
gray_sets = [p1_gray, p2_gray, p3_gray, p4_gray, p5_gray, p6_gray]
pos_sets = [p1_pos, p2_pos, p3_pos, p4_pos, p5_pos, p6_pos]

# ---- styling / layout ----
chan_col = {'INFRA-RED': '#a03a55', 'RED': '#e8403a', 'YELLOW': '#eee383', 'GREEN': '#52b84c'}
pos_col = ['#14f2f2', '#7a22ff', '#1cff82', '#26b226', '#ff1c1c', '#b44a80']
gray = '#474b58'
navy = '#1f3a5f'

# pixel boxes: left, right, top, bottom ; axis limits
boxes = [(68, 486, 12.7, 221.7), (558, 973, 12.7, 221.7),
         (68, 486, 271, 480), (558, 973, 271, 480),
         (68, 486, 526.7, 736), (558, 973, 526.7, 736)]
xlims = [(-180, 25300), (-50, 36130), (-224, 30950), (-30, 20680), (-233, 32250), (-75, 51620)]
ylims = [(-540, 55800), (-590, 61000), (-310, 27830), (-340, 30490), (-253, 22790), (-253, 22790)]
xmajor = [5000, 5000, 5000, 5000, 5000, 10000]
ymajor = [10000, 10000, 5000, 5000, 5000, 5000]
title_boxes = [(274, 486, 10, 53), (760, 980, 10, 53), (274, 488, 269, 314),
               (760, 980, 269, 312), (274, 486, 525, 568), (760, 980, 525, 568)]

W, H = 973, 775
fig = plt.figure(figsize=(W / 100, H / 100), dpi=100)


def fmt(v, pos):
    v = int(round(v))
    if v >= 10000:
        return f'{v:,}'.replace(',', '\u2009')
    return str(v)


for i in range(6):
    l, r, t, b = boxes[i]
    ax = fig.add_axes([l / W, 1 - b / H, (r - l) / W, (b - t) / H])
    g = np.array(gray_sets[i]) * 1000
    p = np.array(pos_sets[i]) * 1000
    ax.axvline(thresh_x[i], color=chan_col[xlabels[i]], lw=1.1, ls=(0, (3, 1)), zorder=1)
    ax.axhline(thresh_y[i], color=chan_col[ylabels[i]], lw=1.1, ls=(0, (3, 1)), zorder=1)
    ax.scatter(g[:, 0], g[:, 1], s=8, color=gray, linewidths=0, zorder=2)
    ax.scatter(p[:, 0], p[:, 1], s=8, color=pos_col[i], linewidths=0, zorder=3)
    ax.set_xlim(*xlims[i])
    ax.set_ylim(*ylims[i])
    for s in ['top', 'right']:
        ax.spines[s].set_visible(False)
    for s in ['left', 'bottom']:
        ax.spines[s].set_position(('outward', 2))
        ax.spines[s].set_color('#666666')
        ax.spines[s].set_linewidth(0.9)
    ax.xaxis.set_major_locator(MultipleLocator(xmajor[i]))
    ax.yaxis.set_major_locator(MultipleLocator(ymajor[i]))
    ax.xaxis.set_minor_locator(AutoMinorLocator(5))
    ax.yaxis.set_minor_locator(AutoMinorLocator(5))
    ax.xaxis.set_major_formatter(FuncFormatter(fmt))
    ax.yaxis.set_major_formatter(FuncFormatter(fmt))
    ax.tick_params(which='major', length=4, width=0.8, color='#666666', labelsize=6.4, pad=2)
    ax.tick_params(which='minor', length=2.2, width=0.7, color='#666666')
    for lab in ax.get_xticklabels() + ax.get_yticklabels():
        lab.set_family(['DejaVu Serif'])
        lab.set_color('#333333')

    # axis titles
    cx = (l + r) / 2
    row_bottom = [255, 255, 512, 512, 768, 768][i]
    fig.text(cx / W, 1 - row_bottom / H, xlabels[i], ha='center', va='center',
             fontsize=7, fontweight='bold', color='#222222', family='DejaVu Sans')
    fig.text((15 if i % 2 == 0 else 503) / W, 1 - (t + b) / 2 / H, ylabels[i], ha='center', va='center',
             rotation=90, fontsize=7, fontweight='bold', color='#222222', family='DejaVu Sans')

    # title box
    bl, br, bt, bb = title_boxes[i]
    fig.patches.append(Rectangle((bl / W, 1 - bb / H), (br - bl) / W, (bb - bt) / H,
                                 transform=fig.transFigure, facecolor='white', edgecolor=navy,
                                 linewidth=2.2, zorder=5))
    tx = (bl + br) / 2 if i % 2 == 0 else (bl + 973) / 2 - 6
    fig.text(tx / W, 1 - (bt + bb) / 2 / H, titles[i], ha='center', va='center',
             fontsize=17, fontweight='bold', color=navy, family=['Lato', 'DejaVu Sans'], zorder=6)

    # small linked-circle icon
    ix = 38 if i % 2 == 0 else 525
    iy = [245, 245, 502, 502, 758, 758][i]
    fig.lines.append(plt.Line2D([(ix - 2) / W, (ix + 2) / W], [1 - (iy + 2) / H, 1 - (iy - 2) / H],
                                transform=fig.transFigure, ls='none', marker='o', ms=3.6,
                                mfc='#d8ecff', mec='#1a74cc', mew=1.0))

fig.savefig('out.png', dpi=100)
